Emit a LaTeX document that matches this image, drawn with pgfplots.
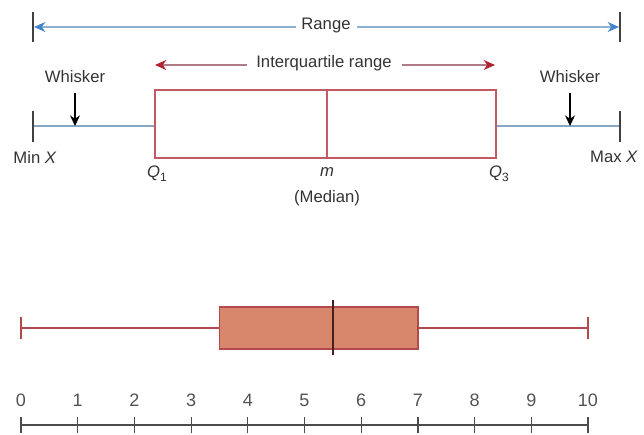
\documentclass[border=0pt]{standalone}
\usepackage{pgfplots}
\pgfplotsset{compat=1.18}
\usepgfplotslibrary{statistics}
\usetikzlibrary{arrows.meta}
\usepackage{fontspec}
\setmainfont{Liberation Sans}

\definecolor{boxred}{HTML}{C25A66}
\definecolor{whiskblue}{HTML}{87A7C4}
\definecolor{rangeblue}{HTML}{3F86CC}
\definecolor{rangeline}{HTML}{8FB2CE}
\definecolor{iqrred}{HTML}{B3202E}
\definecolor{iqrline}{HTML}{B07A86}
\definecolor{boxfill}{HTML}{D9876C}
\definecolor{boxedge}{HTML}{B24A4C}
\definecolor{txt}{HTML}{333333}

\newcommand{\lbl}{\fontsize{12.5}{15}\selectfont}
\newcommand{\sub}[1]{\raisebox{-0.45ex}{\fontsize{9}{10}\selectfont #1}}

\begin{document}
\begin{tikzpicture}
% schematic (pixel-like coordinates, y downwards)
\begin{axis}[
  at={(0,0)}, anchor=north west,
  scale only axis, width=483pt, height=326.25pt,
  xmin=0, xmax=644, ymin=0, ymax=435, y dir=reverse,
  hide axis, clip=false,
]
  % range
  \draw[black!75, line width=0.9pt] (axis cs:33,12) -- (axis cs:33,42);
  \draw[black!75, line width=0.9pt] (axis cs:620,12) -- (axis cs:620,42);
  \draw[rangeline, line width=1pt, -{Stealth[length=8.5pt,width=7.5pt,color=rangeblue]}]
    (axis cs:296,27) -- (axis cs:34,27);
  \draw[rangeline, line width=1pt, -{Stealth[length=8.5pt,width=7.5pt,color=rangeblue]}]
    (axis cs:357,27) -- (axis cs:619,27);
  \node[txt, font=\lbl] at (axis cs:326,25) {Range};
  % interquartile range
  \draw[iqrline, line width=1pt, -{Stealth[length=8.5pt,width=7.5pt,color=iqrred]}]
    (axis cs:247,65) -- (axis cs:155,65);
  \draw[iqrline, line width=1pt, -{Stealth[length=8.5pt,width=7.5pt,color=iqrred]}]
    (axis cs:402,65) -- (axis cs:495,65);
  \node[txt, font=\lbl] at (axis cs:324,63) {Interquartile range};
  % whiskers and box
  \draw[whiskblue, line width=1pt] (axis cs:33,126) -- (axis cs:155,126);
  \draw[whiskblue, line width=1pt] (axis cs:496,126) -- (axis cs:620,126);
  \draw[black!75, line width=0.9pt] (axis cs:33,111) -- (axis cs:33,142);
  \draw[black!75, line width=0.9pt] (axis cs:620,111) -- (axis cs:620,142);
  \draw[boxred, line width=1pt] (axis cs:155,90) rectangle (axis cs:496,158);
  \draw[boxred, line width=1pt] (axis cs:327,90) -- (axis cs:327,158);
  % whisker labels
  \node[txt, font=\lbl] at (axis cs:75,77) {Whisker};
  \node[txt, font=\lbl] at (axis cs:570,77) {Whisker};
  \draw[black, line width=0.9pt, -{Stealth[length=8pt,width=7.5pt]}] (axis cs:75,93) -- (axis cs:75,126);
  \draw[black, line width=0.9pt, -{Stealth[length=8pt,width=7.5pt]}] (axis cs:570,93) -- (axis cs:570,126);
  % point labels
  \node[txt, font=\lbl] at (axis cs:35,157) {Min \textit{X}};
  \node[txt, font=\lbl] at (axis cs:614,157) {Max \textit{X}};
  \node[txt, font=\lbl] at (axis cs:157,174) {\textit{Q}\sub{1}};
  \node[txt, font=\lbl] at (axis cs:327,172) {\textit{m}};
  \node[txt, font=\lbl] at (axis cs:499,174) {\textit{Q}\sub{3}};
  \node[txt, font=\lbl] at (axis cs:327,198) {(Median)};
\end{axis}

% example box plot on a number line
\begin{axis}[
  at={(15.75pt,-318.75pt)}, anchor=south west,
  scale only axis, width=425.25pt, height=101.25pt,
  xmin=0, xmax=10, ymin=0, ymax=135,
  axis x line*=bottom, hide y axis, clip=false,
  axis line style={black!70, line width=0.9pt, -},
  xtick={0,1,...,10},
  tick align=center, major tick length=12pt,
  tick style={black!70, line width=0.9pt},
  xticklabel style={anchor=south, yshift=16pt, text=txt!85!white, font=\fontsize{13.5}{15}\selectfont},
  /pgf/number format/assume math mode=true,
]
  \addplot+[
    boxplot prepared={
      lower whisker=0, lower quartile=3.5, median=5.5,
      upper quartile=7, upper whisker=10,
      draw direction=x, draw position=97,
      box extend=42, whisker extend=22,
    },
    draw=boxedge, fill=boxfill, line width=0.9pt, solid, mark=none,
  ] coordinates {};
  \addplot[black!60!boxedge, line width=1pt] coordinates {(5.5,70) (5.5,125)};
\end{axis}
\pgfresetboundingbox
\useasboundingbox (0,0) rectangle (483pt,-326.25pt);
\end{tikzpicture}
\end{document}
